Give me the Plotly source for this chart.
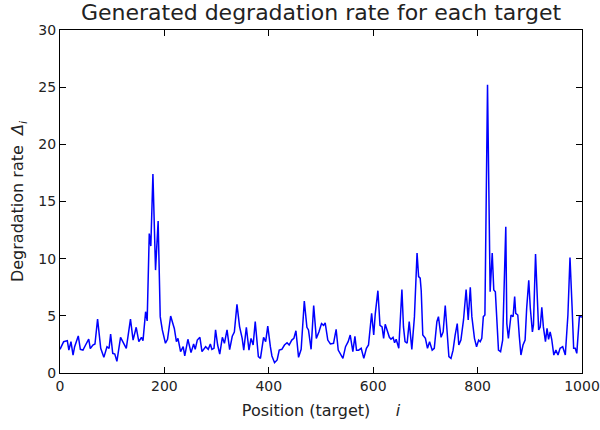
import plotly.graph_objects as go

# Target positions (sampled) and the generated degradation rate at each
position = [
    0, 7, 14, 17, 21, 25, 28, 35, 39, 44, 49, 55, 58, 63, 67, 72, 78, 84, 90, 94,
    97, 101, 105, 109, 116, 122, 127, 135, 140, 146, 151, 156, 159, 164, 167, 171, 174, 178, 183, 188,
    192, 196, 202, 206, 212, 217, 219, 223, 226, 231, 236, 239, 245, 251, 256, 259, 263, 268, 272, 279,
    284, 288, 291, 295, 298, 302, 306, 311, 315, 320, 325, 330, 334, 339, 344, 349, 352, 357, 362, 366,
    370, 374, 380, 384, 390, 394, 398, 403, 406, 411, 416, 420, 425, 430, 435, 439, 444, 448, 452, 457,
    462, 468, 473, 476, 481, 486, 491, 496, 501, 505, 508, 513, 518, 524, 529, 533, 537, 542, 547, 552,
    556, 561, 565, 568, 572, 577, 582, 587, 591, 597, 601, 604, 609, 613, 617, 620, 623, 628, 631, 634,
    638, 641, 644, 649, 655, 658, 661, 665, 669, 674, 679, 684, 687, 690, 692, 695, 700, 704, 708, 713,
    717, 722, 725, 730, 734, 738, 741, 745, 749, 753, 757, 761, 764, 768, 773, 778, 782, 786, 789, 794,
    798, 802, 805, 808, 811, 814, 819, 824, 828, 831, 834, 840, 844, 848, 854, 856, 859, 864, 868, 871,
    873, 877, 880, 883, 887, 891, 894, 898, 901, 905, 907, 911, 914, 917, 920, 923, 926, 930, 933, 936,
    939, 942, 946, 950, 954, 958, 963, 968, 973, 977, 981, 984, 987, 990, 995, 1000,
]
rate = [
    2.07, 2.74, 2.83, 2.0, 2.74, 1.57, 2.3, 3.24, 2.07, 2.0, 2.45, 2.97, 2.13, 2.45, 2.54, 4.72, 2.16, 1.37, 2.3, 2.16,
    3.41, 1.72, 1.66, 1.02, 3.12, 2.6, 2.16, 4.72, 2.88, 4.0, 2.74, 3.12, 2.83, 5.36, 4.56, 12.2, 11.1, 17.4, 9.0, 13.3,
    4.93, 3.77, 2.6, 2.95, 4.98, 4.2, 3.9, 2.74, 3.03, 1.87, 2.3, 1.49, 2.95, 1.78, 2.54, 2.07, 2.88, 3.12, 1.87, 2.3,
    2.07, 2.54, 2.07, 2.16, 3.77, 2.45, 1.66, 3.12, 2.6, 3.77, 2.04, 3.21, 3.59, 6.0, 4.06, 3.03, 2.0, 4.0, 2.0, 3.03,
    2.45, 4.49, 1.43, 1.28, 3.12, 2.74, 4.1, 2.3, 1.49, 0.9, 1.14, 2.0, 2.07, 2.45, 2.65, 2.45, 2.88, 3.03, 3.7, 1.37,
    2.07, 6.3, 4.0, 3.77, 2.07, 5.9, 3.03, 3.59, 4.32, 4.17, 4.38, 2.88, 2.54, 2.6, 3.82, 2.0, 1.72, 1.28, 2.3, 2.74,
    3.32, 1.87, 3.21, 2.0, 2.0, 2.16, 1.28, 2.16, 2.45, 5.22, 3.32, 5.2, 7.2, 4.17, 4.03, 3.03, 4.26, 3.5, 3.12, 2.95,
    3.12, 2.65, 2.95, 2.16, 7.3, 4.03, 2.74, 2.6, 4.49, 2.07, 4.93, 10.5, 8.43, 8.3, 7.2, 3.32, 3.03, 2.16, 2.74, 2.0,
    2.16, 4.49, 4.93, 3.12, 3.59, 5.9, 3.77, 1.43, 1.28, 2.0, 3.32, 4.32, 2.45, 2.88, 4.64, 7.3, 4.64, 7.5, 4.93, 3.03,
    2.3, 2.88, 2.74, 3.03, 4.93, 5.07, 25.2, 7.1, 10.5, 7.26, 7.1, 2.0, 1.87, 2.88, 12.8, 4.32, 3.03, 5.07, 4.93, 6.68,
    5.22, 5.07, 3.15, 1.57, 2.45, 2.88, 5.66, 8.1, 5.66, 3.59, 4.2, 10.4, 6.97, 3.77, 4.03, 5.74, 4.03, 2.74, 3.91, 2.95,
    3.59, 2.95, 1.57, 2.0, 1.57, 2.16, 2.3, 1.57, 5.07, 10.1, 5.8, 2.16, 2.16, 1.72, 4.93, 4.9,
]

x_ticks = [0, 200, 400, 600, 800, 1000]
y_ticks = [0, 5, 10, 15, 20, 25, 30]

font_family = "DejaVu Sans"
text_color = "#222222"

fig = go.Figure(
    go.Scatter(
        x=position,
        y=rate,
        mode="lines",
        line=dict(color="#0000ff", width=1.5),
        hoverinfo="x+y",
    )
)

axis_common = dict(
    showgrid=False,
    zeroline=False,
    showline=True,
    linecolor="black",
    linewidth=1,
    mirror="ticks",
    ticks="inside",
    ticklen=6,
    tickwidth=1,
    tickcolor="black",
    automargin=False,
    tickfont=dict(family=font_family, size=14, color=text_color),
)

fig.update_xaxes(
    range=[0, 1000],
    tickvals=x_ticks,
    ticktext=[str(v) for v in x_ticks],
    title=dict(
        text="Position (target)&nbsp;&nbsp;&nbsp;&nbsp;&nbsp;<i>i</i>",
        font=dict(family=font_family, size=16, color=text_color),
        standoff=12,
    ),
    **axis_common,
)
fig.update_yaxes(
    range=[0, 30],
    tickvals=y_ticks,
    ticktext=[str(v) for v in y_ticks],
    title=dict(
        text="Degradation rate  <i>Δ<sub>i</sub></i>",
        font=dict(family=font_family, size=16, color=text_color),
        standoff=10,
    ),
    **axis_common,
)

fig.update_layout(
    width=600,
    height=430,
    margin=dict(l=60, r=18, t=30, b=57),
    paper_bgcolor="white",
    plot_bgcolor="white",
    showlegend=False,
    title=dict(
        text="Generated degradation rate for each target",
        font=dict(family=font_family, size=22, color=text_color),
        x=0.5,
        xref="paper",
        xanchor="center",
        y=1 - 12 / 430,
        yref="container",
        yanchor="middle",
    ),
)

fig.write_html("out.html")
